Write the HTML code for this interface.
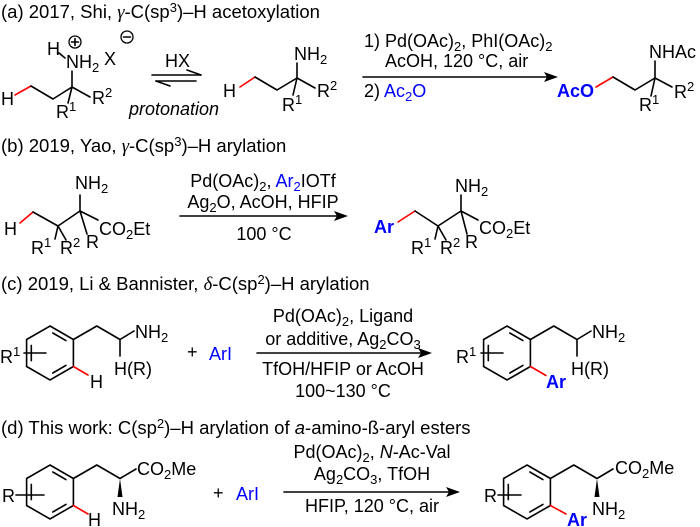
<!DOCTYPE html>
<html><head><meta charset="utf-8"><style>
html,body{margin:0;padding:0;background:#fff;}
svg{display:block;}
text{font-family:"Liberation Sans",Arial,sans-serif;font-size:18px;fill:#000;}
.t{font-size:18.5px;}
.b{fill:#0000ff;}
.bb{fill:#0000ff;font-weight:bold;}
line,polyline{stroke:#000;stroke-width:1.6;fill:none;stroke-linecap:round;stroke-linejoin:round;}
.red{stroke:#ff0000 !important;}
</style></head><body>
<svg width="700" height="527" viewBox="0 0 700 527" xmlns="http://www.w3.org/2000/svg">
<defs>
<g id="ring">
<polygon points="0,-27 23.4,-13.5 23.4,13.5 0,27 -23.4,13.5 -23.4,-13.5" fill="none" stroke="#000" stroke-width="1.6"/>
<line x1="2.8" y1="-20" x2="15.9" y2="-12.4"/>
<line x1="-18.7" y1="-7.6" x2="-18.7" y2="7.6"/>
<line x1="2.8" y1="20" x2="15.9" y2="12.4"/>
</g>
</defs>

<!-- (a) -->
<text class="t" x="1" y="18">(a) 2017, Shi, <tspan font-style="italic" font-family="Liberation Serif">γ</tspan>-C(sp<tspan dy="-6" font-size="13">3</tspan><tspan dy="6">)–H acetoxylation</tspan></text>
<text x="47" y="55">H</text>
<line x1="59" y1="53" x2="65" y2="58"/>
<circle cx="75" cy="42" r="6" fill="none" stroke="#000" stroke-width="1.3"/>
<line x1="71.5" y1="42" x2="78.5" y2="42" stroke-width="1.3"/><line x1="75" y1="38.5" x2="75" y2="45.5" stroke-width="1.3"/>
<text x="66" y="68">NH<tspan dy="4" font-size="13">2</tspan></text>
<text x="104" y="65">X</text>
<circle cx="127" cy="37" r="6" fill="none" stroke="#000" stroke-width="1.3"/>
<line x1="123.5" y1="37" x2="130.5" y2="37" stroke-width="1.3"/>
<text x="1" y="105">H</text>
<line class="red" x1="15" y1="95" x2="31" y2="86"/>
<polyline points="31,86 53,99 72,87 72,71"/>
<line x1="72" y1="87" x2="90" y2="97"/>
<line x1="72" y1="87" x2="68" y2="103"/>
<text x="92" y="104">R<tspan dy="-7" font-size="13">2</tspan></text>
<text x="56" y="118">R<tspan dy="-7" font-size="13">1</tspan></text>
<text x="165" y="67">HX</text>
<line x1="152" y1="75" x2="201" y2="75"/><line x1="187" y1="70" x2="201" y2="75"/>
<line x1="156" y1="81" x2="196" y2="81"/><line x1="170" y1="86" x2="156" y2="81"/>
<text x="129" y="115" font-style="italic">protonation</text>
<text x="223" y="97">H</text>
<line class="red" x1="240" y1="87" x2="255" y2="77"/>
<polyline points="255,77 277,90 297,78 297,63"/>
<line x1="297" y1="78" x2="315" y2="88"/>
<line x1="297" y1="78" x2="293" y2="95"/>
<text x="294" y="60">NH<tspan dy="4" font-size="13">2</tspan></text>
<text x="317" y="97">R<tspan dy="-7" font-size="13">2</tspan></text>
<text x="282" y="111">R<tspan dy="-7" font-size="13">1</tspan></text>
<text x="364" y="47">1) Pd(OAc)<tspan dy="4" font-size="13">2</tspan><tspan dy="-4">, PhI(OAc)</tspan><tspan dy="4" font-size="13">2</tspan></text>
<text x="385" y="67">AcOH, 120 °C, air</text>
<line x1="363" y1="77" x2="552" y2="77"/>
<path d="M544,72 L558,77 L544,82 L547,77 Z" fill="#000"/>
<text x="364" y="97">2) <tspan class="b">Ac</tspan><tspan class="b" dy="4" font-size="13">2</tspan><tspan class="b" dy="-4">O</tspan></text>
<text x="557" y="97" class="bb">AcO</text>
<line class="red" x1="596" y1="87" x2="613" y2="77"/>
<polyline points="613,77 635,90 655,78 655,61"/>
<line x1="655" y1="78" x2="672" y2="87"/>
<line x1="655" y1="78" x2="651" y2="96"/>
<text x="649" y="58">NHAc</text>
<text x="674" y="98">R<tspan dy="-7" font-size="13">2</tspan></text>
<text x="639" y="111">R<tspan dy="-7" font-size="13">1</tspan></text>

<!-- (b) -->
<text class="t" x="1" y="152">(b) 2019, Yao, <tspan font-style="italic" font-family="Liberation Serif">γ</tspan>-C(sp<tspan dy="-6" font-size="13">3</tspan><tspan dy="6">)–H arylation</tspan></text>
<text x="75" y="189">NH<tspan dy="4" font-size="13">2</tspan></text>
<text x="4" y="235">H</text>
<line class="red" x1="20" y1="223" x2="33" y2="212"/>
<polyline points="33,212 58,226 80,211 80,195"/>
<line x1="80" y1="211" x2="98" y2="220"/>
<line x1="80" y1="211" x2="87" y2="234"/>
<line x1="58" y1="226" x2="55" y2="239"/>
<line x1="58" y1="226" x2="66" y2="240"/>
<text x="99" y="235">CO<tspan dy="4" font-size="13">2</tspan><tspan dy="-4">Et</tspan></text>
<text x="86" y="248">R</text>
<text x="31" y="254">R<tspan dy="-7" font-size="13">1</tspan></text>
<text x="60" y="254">R<tspan dy="-7" font-size="13">2</tspan></text>
<text x="263" y="187" text-anchor="middle">Pd(OAc)<tspan dy="4" font-size="13">2</tspan><tspan dy="-4">, </tspan><tspan class="b">Ar</tspan><tspan class="b" dy="4" font-size="13">2</tspan><tspan dy="-4">IOTf</tspan></text>
<text x="263" y="208" text-anchor="middle">Ag<tspan dy="4" font-size="13">2</tspan><tspan dy="-4">O, AcOH, HFIP</tspan></text>
<line x1="180" y1="216" x2="342" y2="216"/>
<path d="M334,211 L348,216 L334,221 L337,216 Z" fill="#000"/>
<text x="264" y="240" text-anchor="middle">100 °C</text>
<text x="455" y="192">NH<tspan dy="4" font-size="13">2</tspan></text>
<text x="374" y="233" class="bb">Ar</text>
<line class="red" x1="398" y1="222" x2="415" y2="211"/>
<polyline points="415,211 438,226 461,211 461,195"/>
<line x1="461" y1="211" x2="478" y2="220"/>
<line x1="461" y1="211" x2="467" y2="234"/>
<line x1="438" y1="226" x2="435" y2="239"/>
<line x1="438" y1="226" x2="446" y2="240"/>
<text x="479" y="234">CO<tspan dy="4" font-size="13">2</tspan><tspan dy="-4">Et</tspan></text>
<text x="465" y="248">R</text>
<text x="411" y="254">R<tspan dy="-7" font-size="13">1</tspan></text>
<text x="440" y="254">R<tspan dy="-7" font-size="13">2</tspan></text>

<!-- (c) -->
<text class="t" x="1" y="290">(c) 2019, Li &amp; Bannister, <tspan font-style="italic" font-family="Liberation Serif">δ</tspan>-C(sp<tspan dy="-6" font-size="13">2</tspan><tspan dy="6">)–H arylation</tspan></text>
<g transform="translate(50,353)"><use href="#ring"/></g>
<text x="0" y="363">R<tspan dy="-7" font-size="13">1</tspan></text>
<line x1="24" y1="353" x2="46" y2="353"/>
<polyline points="73.4,339.5 96.8,326 120,339.5 134,331"/>
<line x1="120" y1="339.5" x2="120" y2="356"/>
<line class="red" x1="73.4" y1="366.5" x2="88" y2="375"/>
<text x="90" y="388">H</text>
<text x="135" y="338">NH<tspan dy="4" font-size="13">2</tspan></text>
<text x="114" y="375">H(R)</text>
<text x="187" y="358">+</text>
<text x="209" y="360" class="b">ArI</text>
<text x="343" y="322" text-anchor="middle">Pd(OAc)<tspan dy="4" font-size="13">2</tspan><tspan dy="-4">, Ligand</tspan></text>
<text x="343" y="345" text-anchor="middle">or additive, Ag<tspan dy="4" font-size="13">2</tspan><tspan dy="-4">CO</tspan><tspan dy="4" font-size="13">3</tspan></text>
<line x1="257" y1="353" x2="426" y2="353"/>
<path d="M418,348 L432,353 L418,358 L421,353 Z" fill="#000"/>
<text x="343" y="375" text-anchor="middle">TfOH/HFIP or AcOH</text>
<text x="343" y="397" text-anchor="middle">100~130 °C</text>
<g transform="translate(507,353)"><use href="#ring"/></g>
<text x="456" y="363">R<tspan dy="-7" font-size="13">1</tspan></text>
<line x1="481" y1="353" x2="503" y2="353"/>
<polyline points="530.4,339.5 553.8,326 577,339.5 591,331"/>
<line x1="577" y1="339.5" x2="577" y2="356"/>
<line class="red" x1="530.4" y1="366.5" x2="546" y2="375.5"/>
<text x="546" y="388" class="bb">Ar</text>
<text x="592" y="338">NH<tspan dy="4" font-size="13">2</tspan></text>
<text x="571" y="375">H(R)</text>

<!-- (d) -->
<text class="t" x="1" y="434">(d) This work: C(sp<tspan dy="-6" font-size="13">2</tspan><tspan dy="6">)–H arylation of </tspan><tspan font-style="italic">a</tspan>-amino-ß-aryl esters</text>
<g transform="translate(50,492)"><use href="#ring"/></g>
<text x="2" y="502">R</text>
<line x1="16" y1="495" x2="44" y2="495"/>
<polyline points="73.4,478.5 96.8,465 120,478.5 136,469"/>
<polygon points="120,478.5 117.5,497 122.5,497" fill="#000"/>
<line class="red" x1="73.4" y1="505.5" x2="88" y2="514"/>
<text x="88" y="526">H</text>
<text x="137" y="475">CO<tspan dy="4" font-size="13">2</tspan><tspan dy="-4">Me</tspan></text>
<text x="112" y="515">NH<tspan dy="4" font-size="13">2</tspan></text>
<text x="213" y="499">+</text>
<text x="236" y="500" class="b">ArI</text>
<text x="372" y="458" text-anchor="middle">Pd(OAc)<tspan dy="4" font-size="13">2</tspan><tspan dy="-4">, </tspan><tspan font-style="italic">N</tspan>-Ac-Val</text>
<text x="372" y="480" text-anchor="middle">Ag<tspan dy="4" font-size="13">2</tspan><tspan dy="-4">CO</tspan><tspan dy="4" font-size="13">3</tspan><tspan dy="-4">, TfOH</tspan></text>
<line x1="284" y1="492" x2="454" y2="492"/>
<path d="M446,487 L460,492 L446,497 L449,492 Z" fill="#000"/>
<text x="372" y="512" text-anchor="middle">HFIP, 120 °C, air</text>
<g transform="translate(527,492)"><use href="#ring"/></g>
<text x="484" y="502">R</text>
<line x1="498" y1="495" x2="521" y2="495"/>
<polyline points="550.4,478.5 573.8,465 597,478.5 613,469"/>
<polygon points="597,478.5 594.5,497 599.5,497" fill="#000"/>
<line class="red" x1="550.4" y1="505.5" x2="566" y2="514"/>
<text x="567" y="526" class="bb">Ar</text>
<text x="615" y="474">CO<tspan dy="4" font-size="13">2</tspan><tspan dy="-4">Me</tspan></text>
<text x="592" y="515">NH<tspan dy="4" font-size="13">2</tspan></text>
</svg>
</body></html>
